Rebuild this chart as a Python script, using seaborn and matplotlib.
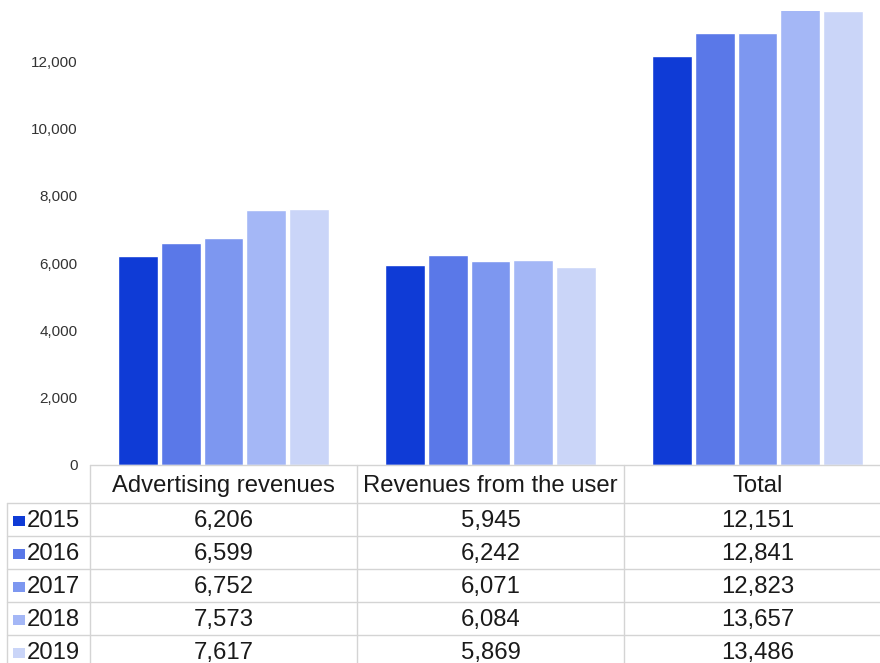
import matplotlib
matplotlib.use("Agg")
import matplotlib.pyplot as plt
import matplotlib.transforms as mtransforms
from matplotlib.lines import Line2D
from matplotlib.patches import Rectangle
from matplotlib.ticker import FuncFormatter
import pandas as pd
import seaborn as sns

# chart data
categories = ["Advertising revenues", "Revenues from the user", "Total"]
years = ["2015", "2016", "2017", "2018", "2019"]
advertising = [6206, 6599, 6752, 7573, 7617]
from_user = [5945, 6242, 6071, 6084, 5869]
total = [12151, 12841, 12823, 13657, 13486]
colors = ["#0f3bd6", "#5a78e8", "#7d97f0", "#a4b7f6", "#cad5f8"]

sns.set_style("white")
plt.rcParams['font.family'] = ['Liberation Sans', 'DejaVu Sans']

W, H = 880, 663
fig = plt.figure(figsize=(W / 100, H / 100), dpi=100)
ax = fig.add_axes([90 / W, (H - 465) / H, 790 / W, 454 / H])

rows = []
for i, yr in enumerate(years):
    for cat, vals in zip(categories, [advertising, from_user, total]):
        rows.append({"category": cat, "year": yr, "value": vals[i]})
df = pd.DataFrame(rows)

sns.barplot(data=df, x="category", y="value", hue="year", order=categories,
            hue_order=years, palette=colors, width=0.8, gap=0.07,
            ax=ax, legend=False, saturation=1)

ax.set_xlim(-0.5, -0.5 + 790 / 267)
ax.set_ylim(0, 13490)
ax.set_yticks(range(0, 12001, 2000))
ax.yaxis.set_major_formatter(FuncFormatter(lambda v, p: f"{int(v):,}"))
ax.tick_params(axis='y', length=0, pad=9, labelsize=11, labelcolor="#333333")
ax.set_xticks([])
ax.set_xlabel("")
ax.set_ylabel("")
for s in ax.spines.values():
    s.set_visible(False)

# data table below the bars
grid = "#d4d4d4"
txt = "#1a1a1a"
bt = mtransforms.blended_transform_factory(ax.transData, fig.transFigure)

def fy(py):
    return (H - py) / H

def fx(px):
    return px / W

x_left = -0.5
x_right = -0.5 + 790 / 267
header_top, header_bot = 465, 503
row_h = 33
n_rows = len(years)
bottom = header_bot + row_h * n_rows

# horizontal lines
fig.add_artist(Line2D([x_left, x_right], [fy(header_top)] * 2, transform=bt, color=grid, lw=1))
for r in range(n_rows + 1):
    yy = fy(header_bot + r * row_h)
    fig.add_artist(Line2D([fx(7), fx(90)], [yy, yy], transform=fig.transFigure, color=grid, lw=1))
    fig.add_artist(Line2D([x_left, x_right], [yy, yy], transform=bt, color=grid, lw=1))
# vertical lines
for xb in [-0.5, 0.5, 1.5, 2.5]:
    fig.add_artist(Line2D([xb, xb], [fy(header_top), fy(bottom)], transform=bt, color=grid, lw=1))
fig.add_artist(Line2D([fx(7), fx(7)], [fy(header_bot), fy(bottom)], transform=fig.transFigure,
                      color=grid, lw=1))

# header texts
for i, cat in enumerate(categories):
    fig.text(i, fy((header_top + header_bot) / 2 + 2), cat, transform=bt, ha="center",
             va="center", fontsize=17.2, color=txt)

# rows
for r, yr in enumerate(years):
    yc = fy(header_bot + r * row_h + row_h / 2 + 1.5)
    fig.add_artist(Rectangle((fx(13), yc - 5 / H), 12 / W, 10 / H, transform=fig.transFigure,
                             facecolor=colors[r], edgecolor="none"))
    fig.text(fx(27), yc, yr, transform=fig.transFigure, ha="left", va="center",
             fontsize=17.2, color=txt)
    for i, vals in enumerate([advertising, from_user, total]):
        fig.text(i, yc, f"{vals[r]:,}", transform=bt, ha="center", va="center",
                 fontsize=17.2, color=txt)

fig.savefig("out.png", dpi=100)
